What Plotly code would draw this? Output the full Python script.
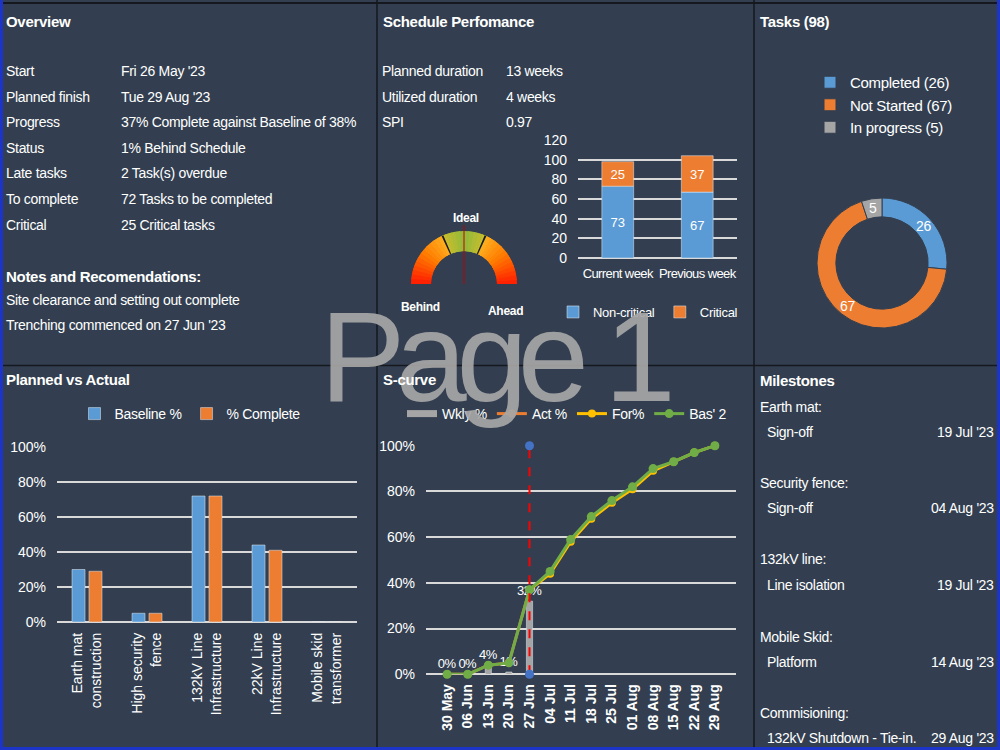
import math
import plotly.graph_objects as go

W, H = 1000, 750


def px(x):
    return x / W


def py(y):
    return 1 - y / H


BG = "#333f50"
FONT = "Liberation Sans Narrow, Arial Narrow, Liberation Sans, Arial, sans-serif"
WHITE = "#ffffff"
BLUE, ORANGE, GRAY, YELLOW, GREEN = "#5b9bd5", "#ed7d31", "#a5a5a5", "#ffc000", "#70ad47"
GRID = "#d9d9d9"

# ---------------- data ----------------
overview_labels = ["Start", "Planned finish", "Progress", "Status", "Late tasks", "To complete", "Critical"]
overview_values = ["Fri 26 May '23", "Tue 29 Aug '23", "37% Complete against Baseline of 38%",
                   "1% Behind Schedule", "2 Task(s) overdue", "72 Tasks to be completed", "25 Critical tasks"]
notes_title = "Notes and Recomendations:"
notes = ["Site clearance and setting out complete", "Trenching commenced on 27 Jun '23"]

sched_labels = ["Planned duration", "Utilized duration", "SPI"]
sched_values = ["13 weeks", "4 weeks", "0.97"]

week_cats = ["Current week", "Previous week"]
noncritical = [73, 67]
critical = [25, 37]

task_labels = ["Completed", "Not Started", "In progress"]
task_values = [26, 67, 5]

pva_cats = ["Earth mat<br>construction", "High security<br>fence", "132kV Line<br>Infrastructure",
            "22kV Line<br>Infrastructure", "Mobile skid<br>transformer"]
baseline_pct = [30, 5, 72, 44, 0]
complete_pct = [29, 5, 72, 41, 0]

weeks = ["30 May", "06 Jun", "13 Jun", "20 Jun", "27 Jun", "04 Jul", "11 Jul", "18 Jul",
         "25 Jul", "01 Aug", "08 Aug", "15 Aug", "22 Aug", "29 Aug"]
wkly = [0, 0, 4, 1, 32, None, None, None, None, None, None, None, None, None]
act = [0, 0, 4, 5, 37, None, None, None, None, None, None, None, None, None]
forecast = [None, None, None, None, 37, 44, 58, 68, 75, 81, 89, 93, 97, 100]
bas2 = [0, 0, 4, 5, 37, 45, 59, 69, 76, 82, 90, 93, 97, 100]
status_week = "27 Jun"

milestone_groups = ["Earth mat:", "Security fence:", "132kV line:", "Mobile Skid:", "Commisioning:"]
milestone_items = ["Sign-off", "Sign-off", "Line isolation", "Platform", "132kV Shutdown - Tie-in."]
milestone_dates = ["19 Jul '23", "04 Aug '23", "19 Jul '23", "14 Aug '23", "29 Aug '23"]

gauge_labels = ["Behind", "Ideal", "Ahead"]
spi = 0.97


def sq(s, ls=-0.3):
    return f'<span style="letter-spacing:{ls}px">{s}</span>'


fig = go.Figure()

# ---------------- Schedule performance stacked bars ----------------
fig.add_trace(go.Bar(x=week_cats, y=noncritical, name=sq("Non-critical"), marker_color=BLUE, width=0.4,
                     text=noncritical, textposition="inside", insidetextanchor="middle", textangle=0,
                     constraintext="none",
                     textfont=dict(color=WHITE, size=14), xaxis="x", yaxis="y", legend="legend2",
                     opacity=1))
fig.add_trace(go.Bar(x=week_cats, y=critical, base=noncritical, name=sq("Critical"), marker_color=ORANGE,
                     width=0.4, text=critical, textposition="inside", insidetextanchor="middle",
                     textangle=0, constraintext="none", textfont=dict(color=WHITE, size=14),
                     xaxis="x", yaxis="y", legend="legend2", opacity=1))

# ---------------- Planned vs Actual ----------------
fig.add_trace(go.Bar(x=pva_cats, y=baseline_pct, name=sq("Baseline %"), marker_color=BLUE, width=0.217,
                     offset=-0.25, xaxis="x2", yaxis="y2", legend="legend", opacity=1))
fig.add_trace(go.Bar(x=pva_cats, y=complete_pct, name=sq("% Complete"), marker_color=ORANGE, width=0.217,
                     offset=0.033, xaxis="x2", yaxis="y2", legend="legend", opacity=1))

# ---------------- S-curve ----------------
fig.add_trace(go.Bar(x=weeks, y=wkly, name="Wkly %", marker_color=GRAY, width=0.3,
                     text=[sq(f"{v}%", -0.6) if v is not None else "" for v in wkly], textposition="outside",
                     textangle=0, constraintext="none", textfont=dict(color=WHITE, size=13),
                     cliponaxis=False, xaxis="x3", yaxis="y3", showlegend=False, opacity=1))
fig.add_trace(go.Scatter(x=[None], y=[None], mode="lines", name=sq("Wkly %"),
                         line=dict(color=GRAY, width=7), xaxis="x3", yaxis="y3", legend="legend3"))
fig.add_trace(go.Scatter(x=weeks, y=act, mode="lines+markers", name=sq("Act %"),
                         line=dict(color=ORANGE, width=3), marker=dict(size=8, color=ORANGE),
                         xaxis="x3", yaxis="y3", legend="legend3", cliponaxis=False))
fig.add_trace(go.Scatter(x=weeks, y=forecast, mode="lines+markers", name=sq("For%"),
                         line=dict(color=YELLOW, width=3), marker=dict(size=8, color=YELLOW),
                         xaxis="x3", yaxis="y3", legend="legend3", cliponaxis=False))
fig.add_trace(go.Scatter(x=weeks, y=bas2, mode="lines+markers", name=sq("Bas' 2"),
                         line=dict(color=GREEN, width=3), marker=dict(size=9, color=GREEN),
                         xaxis="x3", yaxis="y3", legend="legend3", cliponaxis=False))
fig.add_trace(go.Scatter(x=[status_week, status_week], y=[0, 100], mode="lines+markers",
                         line=dict(color="#ff0000", width=2, dash="dash"),
                         marker=dict(size=9, color="#4472c4"), showlegend=False,
                         xaxis="x3", yaxis="y3", cliponaxis=False))

# ---------------- Tasks donut ----------------
cx, cy, R, HOLE = 882, 263, 65, 0.71
fig.add_trace(go.Pie(labels=[sq(f"{l} ({v})") for l, v in zip(task_labels, task_values)], values=task_values,
                     hole=HOLE, sort=False, direction="clockwise", rotation=0,
                     marker=dict(colors=[BLUE, ORANGE, GRAY], line=dict(color=BG, width=1)),
                     textinfo="none",
                     domain=dict(x=[px(cx - R), px(cx + R)], y=[py(cy + R), py(cy - R)]),
                     legend="legend4"))


# ---------------- Gauge ----------------
def hex2rgb(h):
    h = h.lstrip("#")
    return tuple(int(h[i:i + 2], 16) for i in (0, 2, 4))


def lerp(c1, c2, t):
    a, b = hex2rgb(c1), hex2rgb(c2)
    return "rgb(%d,%d,%d)" % tuple(round(a[i] + (b[i] - a[i]) * t) for i in range(3))


def gauge_color(theta):
    d = abs(theta - 90) / 90
    edge = 24 / 90
    if d < edge:
        return lerp("#8fba3c", "#c9bd2c", d / edge)
    t = (d - edge) / (1 - edge)
    if t < 0.45:
        return lerp("#ffb020", "#ff7a00", t / 0.45)
    return lerp("#ff7a00", "#ff1a00", (t - 0.45) / 0.55)


gauge_theta = [2.5 + 5 * i for i in range(36)]
gauge_cols = [gauge_color(t) for t in gauge_theta]
fig.add_trace(go.Barpolar(r=[1] * len(gauge_theta), theta=gauge_theta, width=[5] * len(gauge_theta),
                          marker=dict(color=gauge_cols, line=dict(color=gauge_cols, width=1)),
                          subplot="polar", showlegend=False, hoverinfo="skip"))
fig.add_trace(go.Barpolar(r=[1, 1], theta=[66, 114], width=[2, 2],
                          marker=dict(color="#1a1a1a", line=dict(width=0)),
                          subplot="polar", showlegend=False, hoverinfo="skip"))

g_cx, g_cy, g_R = 464, 284, 53

# ---------------- annotations ----------------
ann = []


def txt(x, y, s, size=14, bold=False, anchor="left", color=WHITE, ls=-0.3):
    s = sq(s, ls)
    ann.append(dict(x=px(x), y=py(y), xref="paper", yref="paper",
                    text=f"<b>{s}</b>" if bold else s, showarrow=False,
                    xanchor=anchor, yanchor="middle", font=dict(family=FONT, size=size, color=color)))


# watermark first (behind other text)
txt(495, 356, "Page 1", size=128, anchor="center", color="rgba(166,166,166,0.93)", ls=-10)

txt(4, 21, "Overview", size=15, bold=True)
row_y = [71, 97, 122, 148, 173, 199, 225]
for yy, l, v in zip(row_y, overview_labels, overview_values):
    txt(4, yy, l)
    txt(119, yy, v)
txt(4, 277, notes_title, size=15, bold=True)
txt(4, 300, notes[0])
txt(4, 325, notes[1])

txt(381, 21, "Schedule Perfomance", size=15, bold=True)
for yy, l, v in zip([71, 97, 122], sched_labels, sched_values):
    txt(380, yy, l)
    txt(504, yy, v)

txt(420, 307, gauge_labels[0], size=12, bold=True, anchor="center")
txt(466, 218, gauge_labels[1], size=12, bold=True, anchor="center")
txt(505, 311, gauge_labels[2], size=12, bold=True, anchor="center")

txt(758, 21, f"Tasks ({sum(task_values)})", size=15, bold=True)

# donut slice labels, placed at the middle angle of each slice
total = sum(task_values)
r_mid = R * (1 + HOLE) / 2
cum = 0
for v in task_values:
    ang = (cum + v / 2) / total * 2 * math.pi
    txt(cx + r_mid * math.sin(ang), cy - r_mid * math.cos(ang), str(v), size=14, anchor="center")
    cum += v

txt(4, 379, "Planned vs Actual", size=15, bold=True)
txt(381, 379, "S-curve", size=15, bold=True)

txt(758, 380, "Milestones", size=15, bold=True)
ms_y = [(407, 432), (483, 508), (559, 585), (637, 662), (713, 738)]
for (y1, y2), g, it, d in zip(ms_y, milestone_groups, milestone_items, milestone_dates):
    txt(758, y1, g, size=14)
    txt(765, y2, it, size=14)
    txt(996, y2, d, size=14, anchor="right")

# ---------------- shapes ----------------
shapes = []


def line(x0, y0, x1, y1, color, width, dash=None):
    shapes.append(dict(type="line", xref="paper", yref="paper", x0=px(x0), y0=py(y0), x1=px(x1), y1=py(y1),
                       line=dict(color=color, width=width, dash=dash), layer="above"))


DARK = "#15181e"
line(0, 3, 1000, 3, DARK, 2)
line(377, 0, 377, 750, DARK, 1.5)
line(754, 0, 754, 750, DARK, 1.5)
line(0, 365.5, 1000, 365.5, DARK, 1.5)
BORDER = "#1c34c8"
line(1.5, 0, 1.5, 750, BORDER, 3)
line(998.5, 0, 998.5, 750, BORDER, 3)
line(0, 748.5, 1000, 748.5, BORDER, 3)
# gauge needle
line(g_cx, g_cy, g_cx, g_cy - g_R - 6, "#c00000", 1)

axis_common = dict(tickfont=dict(family=FONT, size=14, color=WHITE), showline=False, ticks="")

fig.update_layout(
    width=W, height=H, margin=dict(l=0, r=0, t=0, b=0, pad=0, autoexpand=False),
    paper_bgcolor=BG, plot_bgcolor=BG,
    font=dict(family=FONT, size=14, color=WHITE),
    barmode="overlay", hovermode=False,
    uniformtext=dict(minsize=13, mode="show"),
    annotations=ann, shapes=shapes,
    xaxis=dict(domain=[px(578), px(737)], anchor="y", showgrid=False, zeroline=False, tickangle=0,
               tickvals=week_cats, ticktext=[sq(c, -0.6) for c in week_cats],
               ticklabelstandoff=6, showline=False, ticks="",
               tickfont=dict(family=FONT, size=13, color=WHITE)),
    yaxis=dict(domain=[py(258), py(140)], anchor="x", range=[0, 120], dtick=20, showgrid=True,
               gridcolor=GRID, gridwidth=1.5, zeroline=True, zerolinecolor=GRID, zerolinewidth=1.5,
               ticklabelstandoff=10, **axis_common),
    xaxis2=dict(domain=[px(57), px(357)], anchor="y2", showgrid=False, zeroline=False, tickangle=-90,
                ticklabelstandoff=7, **axis_common),
    yaxis2=dict(domain=[py(622), py(447)], anchor="x2", range=[0, 100], dtick=20, ticksuffix="%",
                showgrid=True, gridcolor=GRID, gridwidth=1.5, zeroline=True, zerolinecolor=GRID,
                zerolinewidth=1.5, ticklabelstandoff=10, **axis_common),
    xaxis3=dict(domain=[px(426), px(736)], anchor="y3", showgrid=False, zeroline=False, tickangle=-90,
                ticklabelstandoff=6, showline=False, ticks="",
                tickfont=dict(family=FONT, size=14, color=WHITE, weight="bold")),
    yaxis3=dict(domain=[py(674.3), py(445.7)], anchor="x3", range=[0, 100], dtick=20, ticksuffix="%",
                showgrid=True, gridcolor=GRID, gridwidth=1.5, zeroline=True, zerolinecolor=GRID,
                zerolinewidth=1.5, ticklabelstandoff=10, **axis_common),
    polar=dict(domain=dict(x=[px(g_cx - g_R), px(g_cx + g_R)], y=[py(g_cy), py(g_cy - g_R)]),
               sector=[0, 180], hole=0.62, bgcolor="rgba(0,0,0,0)",
               radialaxis=dict(visible=False, range=[0, 1]),
               angularaxis=dict(visible=False, direction="counterclockwise", rotation=0)),
    legend=dict(x=px(190), y=py(414), xanchor="center", yanchor="middle", orientation="h",
                bgcolor="rgba(0,0,0,0)", font=dict(size=14, color=WHITE), itemwidth=30),
    legend2=dict(x=px(648), y=py(312), xanchor="center", yanchor="middle", orientation="h",
                 bgcolor="rgba(0,0,0,0)", font=dict(size=13, color=WHITE), itemwidth=30),
    legend3=dict(x=px(567), y=py(414), xanchor="center", yanchor="middle", orientation="h",
                 bgcolor="rgba(0,0,0,0)", font=dict(size=14, color=WHITE), itemwidth=30),
    legend4=dict(x=px(810), y=py(105), xanchor="left", yanchor="middle", orientation="v",
                 bgcolor="rgba(0,0,0,0)", font=dict(size=15, color=WHITE), itemwidth=30),
)

fig.write_html("out.html")
